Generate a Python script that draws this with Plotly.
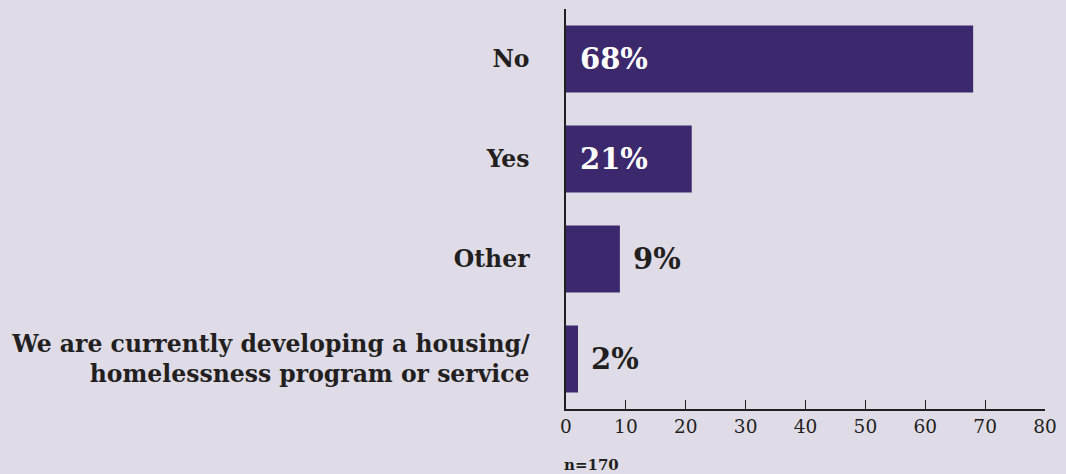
import plotly.graph_objects as go

categories = [
    "No",
    "Yes",
    "Other",
    "We are currently developing a housing/<br>homelessness program or service",
]
values = [68, 21, 9, 2]
x_ticks = [0, 10, 20, 30, 40, 50, 60, 70, 80]

BG = "#dfdce8"
BAR = "#3c286d"
INK = "#231f20"
SERIF = "DejaVu Serif, Liberation Serif, serif"

fig = go.Figure(
    go.Bar(
        y=categories,
        x=values,
        orientation="h",
        marker=dict(color=BAR, line=dict(width=0)),
        width=0.67,
        hoverinfo="skip",
    )
)

# Percentage labels: inside (white) for long bars, just past the end for short ones
for cat, v in zip(categories, values):
    inside = v >= 15
    fig.add_annotation(
        x=0 if inside else v,
        y=cat,
        text=f"<b>{v}%</b>",
        showarrow=False,
        xanchor="left",
        yanchor="middle",
        xshift=12 if inside else 11,
        font=dict(family=SERIF, size=29, color="white" if inside else INK),
    )

fig.add_annotation(
    x=0,
    y=0,
    xref="paper",
    yref="paper",
    text="<b>n=170</b>",
    showarrow=False,
    xanchor="left",
    yanchor="top",
    xshift=-4,
    yshift=-45,
    font=dict(family=SERIF, size=15, color=INK),
)

fig.update_layout(
    width=1066,
    height=474,
    paper_bgcolor=BG,
    plot_bgcolor=BG,
    margin=dict(l=566, r=17, t=9, b=65),
    showlegend=False,
    xaxis=dict(
        range=[0, 80],
        tickvals=x_ticks,
        ticks="inside",
        ticklen=9,
        tickwidth=1.3,
        tickcolor=INK,
        showgrid=False,
        zeroline=False,
        showline=True,
        linecolor=INK,
        linewidth=1.5,
        tickfont=dict(family=SERIF, size=18.5, color=INK),
        fixedrange=True,
    ),
    yaxis=dict(
        categoryorder="array",
        categoryarray=categories[::-1],
        range=[-0.5, 3.5],
        showgrid=False,
        zeroline=False,
        showline=True,
        linecolor=INK,
        linewidth=1.5,
        ticks="",
        ticklabelstandoff=30,
        tickfont=dict(family=SERIF, size=23.5, color=INK, weight="bold"),
        fixedrange=True,
    ),
)

fig.write_html("out.html")
